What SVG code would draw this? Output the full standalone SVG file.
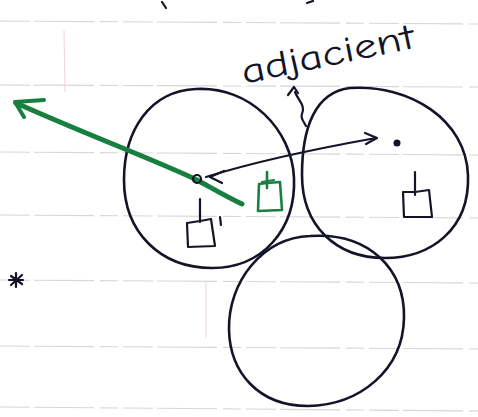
<svg xmlns="http://www.w3.org/2000/svg" width="478" height="417" viewBox="0 0 478 417">
  <style>
    .rule { stroke: #d6d6dc; stroke-width: 1.1; stroke-dasharray: 30 4 60 6 18 5; fill: none; }
    .margin { stroke: #eed6d6; stroke-width: 1; fill: none; }
    .ink { stroke: #141428; stroke-width: 2.6; fill: none; stroke-linecap: round; stroke-linejoin: round; }
    .thin { stroke: #141428; stroke-width: 2.2; fill: none; stroke-linecap: round; stroke-linejoin: round; }
    .green { stroke: #17803f; fill: none; stroke-linecap: round; stroke-linejoin: round; }
    .label { font-family: "Comic Neue", "Liberation Sans", sans-serif; font-size: 36px; fill: #141428; }
  </style>

  <rect width="478" height="417" fill="#ffffff"/>

  <!-- ruled paper -->
  <g id="paper">
    <path class="rule" d="M0 21 L478 24"/>
    <path class="rule" d="M0 85 L478 87"/>
    <path class="rule" d="M0 152 L478 155"/>
    <path class="rule" d="M0 215 L478 218"/>
    <path class="rule" d="M0 280 L478 283"/>
    <path class="rule" d="M0 346 L478 349"/>
    <path class="rule" d="M0 407 L478 411"/>
    <path class="margin" d="M64 30 L65 92"/>
    <path class="margin" d="M206 282 L206 338"/>
    <path class="thin" d="M162 2 L166 8"/>
    <path class="thin" d="M307 3 L313 1"/>
  </g>

  <!-- circles -->
  <g id="left-cell">
    <path class="ink" d="M196 89 C250 86 292 130 294 178 C296 230 262 268 212 268 C160 268 124 232 124 180 C124 130 150 91 196 89 Z"/>
    <!-- box with stem -->
    <path class="thin" d="M200 199 L200 222"/>
    <path class="thin" d="M187 223 L200 221 L211 219 L215 246 L188 247 Z"/>
    <path class="thin" d="M220 217 L221 225"/>
  </g>

  <g id="right-cell">
    <path class="ink" d="M350 88 C410 84 466 120 468 175 C470 230 430 258 385 258 C335 258 302 225 302 175 C302 128 315 92 350 88 Z"/>
    <circle cx="397" cy="143" r="3.5" fill="#141428"/>
    <path class="thin" d="M415 172 L415 195"/>
    <path class="thin" d="M403 192 L415 192 L429 190 L432 217 L404 217 Z"/>
  </g>

  <g id="bottom-cell">
    <path class="ink" d="M310 236 C370 232 405 270 404 318 C403 370 360 405 308 406 C258 406 230 372 229 330 C228 282 262 238 310 236 Z"/>
  </g>

  <!-- green marker box -->
  <g id="green-box">
    <path class="green" stroke-width="2.6" d="M267 172 L267 188"/>
    <path class="green" stroke-width="2.6" d="M259 184 L267 183 L280 182 L282 210 L258 211 Z"/>
    <path class="green" stroke-width="2.2" d="M262 182 L274 180"/>
  </g>

  <!-- connectors -->
  <g id="connectors">
    <!-- green direction arrow -->
    <path class="green" stroke-width="5" d="M242 204 C225 196 210 187 197 180 C150 158 90 136 16 103"/>
    <path class="green" stroke-width="4" d="M44 100 L15 102 L24 117"/>
    <!-- double-headed distance arrow between centres -->
    <circle cx="197" cy="179" r="4" fill="none" stroke="#141428" stroke-width="2.2"/>
    <path class="thin" d="M206 177 C260 160 320 148 376 138"/>
    <path class="thin" d="M224 171 L210 177 L222 183"/>
    <path class="thin" d="M365 133 L377 138 L366 144"/>
    <!-- pointer to label -->
    <path class="thin" d="M288 95 L294 87 L298 93"/>
    <path class="thin" d="M295 92 C298 100 306 106 302 114 C300 118 304 122 306 126"/>
    <!-- asterisk -->
    <path class="thin" d="M11 276 L22 284 M22 275 L11 285 M16 273 L16 287 M9 280 L23 280"/>
  </g>

  <g id="label">
    <text class="label" x="244" y="84" transform="rotate(-12 244 84)" textLength="176" lengthAdjust="spacingAndGlyphs">adjacient</text>
  </g>
</svg>
